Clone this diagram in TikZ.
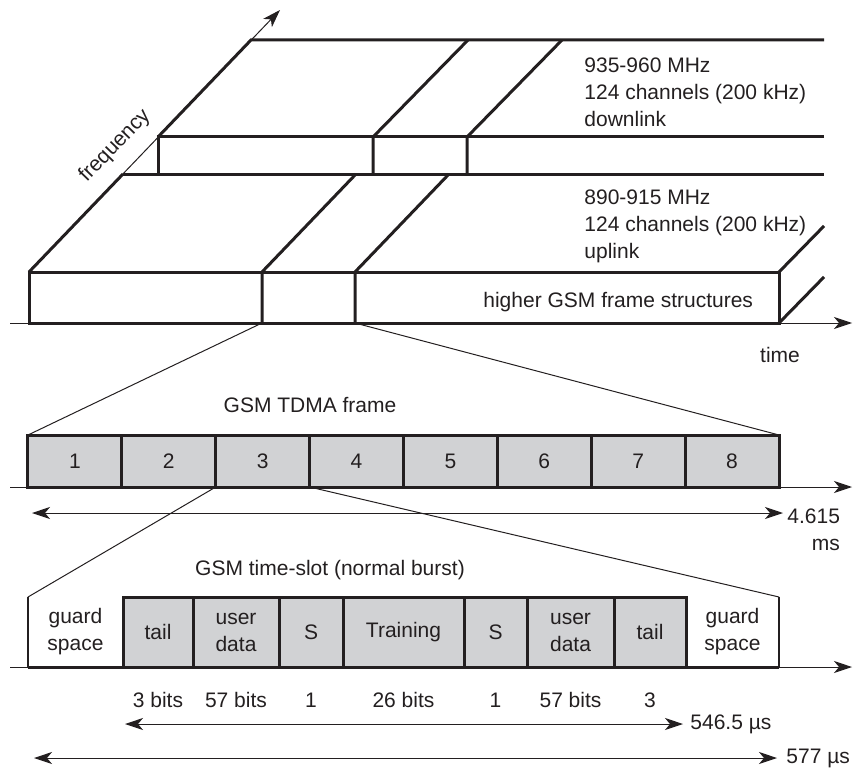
\documentclass[tikz,border=0pt]{standalone}
\usepackage{fontspec}
\setmainfont{Liberation Sans}
\usetikzlibrary{arrows.meta,positioning}
\definecolor{Ink}{HTML}{231F20}
\definecolor{Slot}{HTML}{D1D2D4}
\newcommand{\txt}{\fontsize{10.5}{13.5}\selectfont}
\tikzset{edge/.style={line width=1.5pt,draw=Ink,line join=miter},fine/.style={line width=.5pt,draw=Ink},axis/.style={fine,-{Stealth[length=9pt,width=6pt,inset=2.5pt]}},dim/.style={fine,{Stealth[length=9pt,width=6pt,inset=2.5pt]}-{Stealth[length=9pt,width=6pt,inset=2.5pt]}},slot/.style={draw=Ink,fill=Slot,line width=1.5pt,minimum height=26pt,inner sep=0pt,outer sep=0pt,font=\txt,text=Ink},field/.style={slot,minimum height=35pt,align=center},guard/.style={field,draw=none,fill=none},lab/.style={font=\txt,text=Ink,align=center,inner sep=0pt}}

\begin{document}
\begin{tikzpicture}[x=.5pt,y=-.5pt]
\useasboundingbox (0,0) rectangle (854,770);
% frequency and time axes
\draw[axis] (29,272) -- (280,10);
\draw[axis] (10,323) -- (852,323);
% downlink band
\draw[edge] (158,137) -- (251,40) -- (824,40);
\draw[edge] (824,137) -- (158,137) -- (158,174);
\draw[edge] (373,174) -- (373,137) -- (468,40);
\draw[edge] (467,174) -- (467,137) -- (562,40);
% uplink band
\draw[edge] (123,174) -- (824,174);
\draw[edge] (29,272) rectangle (779,323);
\draw[edge] (29,272) -- (123,174);
\draw[edge] (262,323) -- (262,272) -- (356,174);
\draw[edge] (355,323) -- (355,272) -- (449,174);
\draw[edge] (779,272) -- (824,226);
\draw[edge] (779,323) -- (824,277);
\coordinate (u1) at (262,323);
\coordinate (u2) at (355,323);
\node[lab,anchor=west,align=left] (dl) at (584,92) {935-960 MHz\\124 channels (200 kHz)\\downlink};
\node[lab,anchor=west,align=left] (ul) at (584,226) {890-915 MHz\\124 channels (200 kHz)\\uplink};
\node[lab,anchor=west] (hi) at (483,302) {higher GSM frame structures};
\node[lab,rotate=46] (fq) at (115,146) {frequency};
\node[lab] (tm) at (780,355) {time};
% TDMA frame
\draw[axis] (10,487) -- (852,487);
\foreach \i in {1,...,8}
  \node[slot,minimum width=46.94pt] (s\i) at ({28+93.875*(\i-.5)},461) {\i};
\node[lab] (tdma) at (310,405) {GSM TDMA frame};
\draw[fine] (u1) -- (s1.north west);
\draw[fine] (u2) -- (s8.north east);
\coordinate (fa) at (32,513);
\coordinate (fb) at (783,513);
\draw[dim] (fa) -- (fb);
\node[lab,anchor=west,align=right] (n4615) at (787,530) {4.615\\ms};
% time-slot
\draw[axis] (10,667) -- (852,667);
\node[guard,minimum width=47.5pt,anchor=west] (g1) at (28,632) {guard\\space};
\node[field,minimum width=35pt,right=0pt of g1] (f1) {tail};
\node[field,minimum width=43pt,right=0pt of f1] (f2) {user\\data};
\node[field,minimum width=32pt,right=0pt of f2] (f3) {S};
\node[field,minimum width=60.5pt,right=0pt of f3] (f4) {Training};
\node[field,minimum width=31.5pt,right=0pt of f4] (f5) {S};
\node[field,minimum width=43.5pt,right=0pt of f5] (f6) {user\\data};
\node[field,minimum width=36pt,right=0pt of f6] (f7) {tail};
\node[guard,minimum width=46.5pt,right=0pt of f7] (g2) {guard\\space};
\draw[edge] (g1.south west) -- (g2.south east);
\draw[fine] (s3.south west) -- (g1.north west);
\draw[fine] (s4.south west) -- (g2.north east);
\draw[draw=Ink,line width=1pt] (g1.north west) -- (g1.south west);
\draw[draw=Ink,line width=1pt] (g2.north east) -- (g2.south east);
\node[lab] (ts) at (330,570) {GSM time-slot (normal burst)};
\coordinate (br) at (0,700);
\node[lab] (b1) at (f1 |- br) {3 bits};
\node[lab] (b2) at (f2 |- br) {57 bits};
\node[lab] (b3) at (f3 |- br) {1};
\node[lab] (b4) at (f4 |- br) {26 bits};
\node[lab] (b5) at (f5 |- br) {1};
\node[lab] (b6) at (f6 |- br) {57 bits};
\node[lab] (b7) at (f7 |- br) {3};
\coordinate (ba) at (125,724);
\node[lab,anchor=west,inner xsep=3.5pt] (n546) at (683,724) {546.5 µs};
\draw[dim] (ba) -- (n546.west);
\coordinate (aa) at (34,758);
\node[lab,anchor=west,inner xsep=4.5pt] (n577) at (777,758) {577 µs};
\draw[dim] (aa) -- (n577.west);
\end{tikzpicture}
\end{document}
